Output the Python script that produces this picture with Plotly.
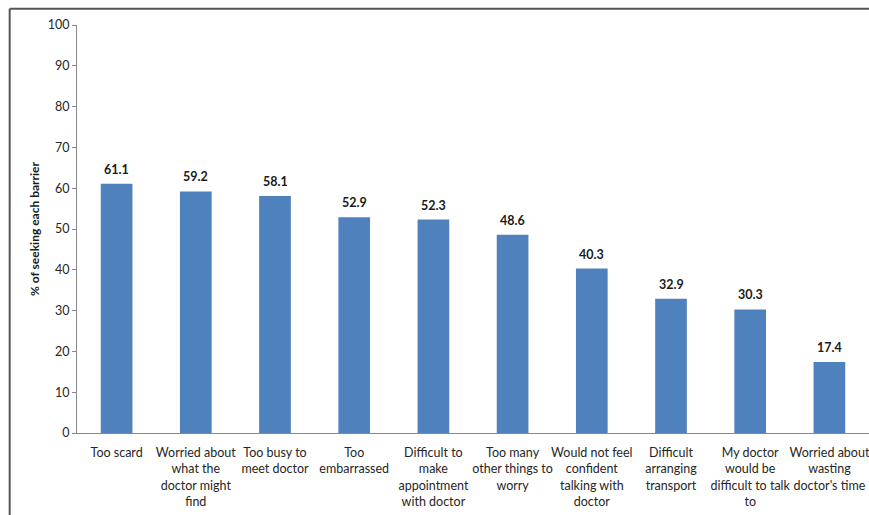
import plotly.graph_objects as go

categories = [
    "Too scard",
    "Worried about<br>what the<br>doctor might<br>find",
    "Too busy to<br>meet doctor",
    "Too<br>embarrassed",
    "Difficult to<br>make<br>appointment<br>with doctor",
    "Too many<br>other things to<br>worry",
    "Would not feel<br>confident<br>talking with<br>doctor",
    "Difficult<br>arranging<br>transport",
    "My doctor<br>would be<br>difficult to talk<br>to",
    "Worried about<br>wasting<br>doctor's time",
]
values = [61.1, 59.2, 58.1, 52.9, 52.3, 48.6, 40.3, 32.9, 30.3, 17.4]
y_ticks = list(range(0, 101, 10))
y_title = "% of seeking each barrier"

FONT = "Lato, Liberation Sans, sans-serif"

fig = go.Figure()
fig.add_trace(go.Bar(
    x=categories, y=values,
    marker=dict(color="#4F81BD", line=dict(width=0)),
    hoverinfo="skip",
))

for c, v in zip(categories, values):
    fig.add_annotation(
        x=c, y=v, text=f"<b>{v:.1f}</b>", showarrow=False,
        yanchor="bottom", yshift=5,
        font=dict(family=FONT, size=12.5, color="#1a1a1a"),
    )

# outer frame lines (top and left)
fig.add_shape(type="line", xref="paper", yref="paper",
              x0=-0.085, x1=1.0, y0=1.04, y1=1.04,
              line=dict(color="#555555", width=2))
fig.add_shape(type="line", xref="paper", yref="paper",
              x0=-0.085, x1=-0.085, y0=1.04, y1=-0.25,
              line=dict(color="#555555", width=2))

fig.update_layout(
    width=869, height=515,
    margin=dict(l=77, r=0, t=25, b=82, autoexpand=False),
    paper_bgcolor="white", plot_bgcolor="white",
    bargap=0.6,
    showlegend=False,
    font=dict(family=FONT, size=12, color="#262626"),
    xaxis=dict(
        showline=True, linecolor="#888888", linewidth=1,
        ticks="", tickangle=0, automargin=False, ticklabelstandoff=8,
        tickfont=dict(size=12.5, color="#262626"),
        showgrid=False,
    ),
    yaxis=dict(
        range=[0, 100], tickvals=y_ticks, automargin=False,
        showline=True, linecolor="#888888", linewidth=1,
        ticks="outside", ticklen=4, tickcolor="#888888",
        showgrid=False, zeroline=False,
        tickfont=dict(size=12.5, color="#262626"),
        title=dict(text=f"<b>{y_title}</b>", font=dict(size=12, color="#1a1a1a"), standoff=5),
    ),
)

fig.write_html(
    "out.html",
    config={"displayModeBar": False},
    post_script="document.body.style.margin='0';document.body.style.overflow='hidden';",
)
